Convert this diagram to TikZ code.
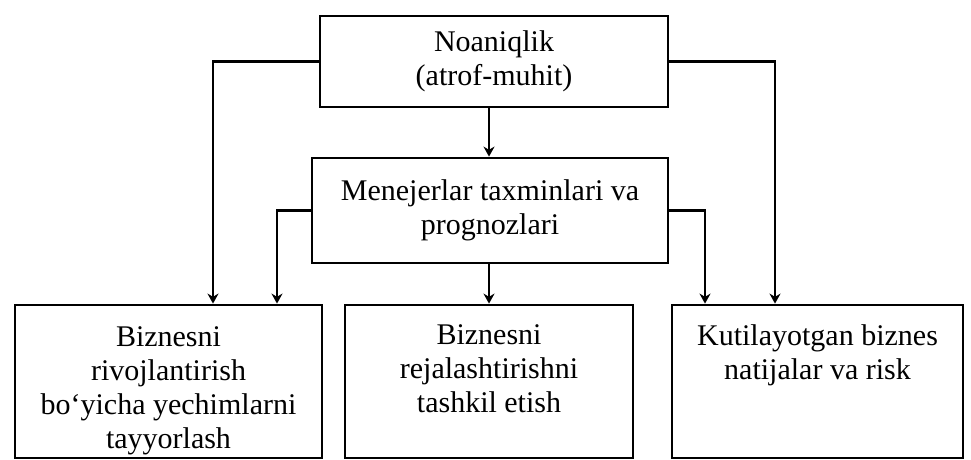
\documentclass[tikz,border=0pt]{standalone}
\usepackage{fontspec}
\setmainfont{Liberation Serif}
\usetikzlibrary{arrows.meta, calc}

\tikzset{
  blok/.style={draw, line width=2.8pt, inner sep=0pt, align=center, font=\fontsize{30}{34}\selectfont},
  matn/.style={align=center, anchor=north, inner sep=0pt, font=\fontsize{30}{34}\selectfont},
  strelka/.style={line width=2.8pt, -{Stealth[length=10pt, width=11pt]}}
}

\begin{document}
\begin{tikzpicture}[x=1pt, y=-1pt]

    % --- 1. FRAME ---
    \useasboundingbox (0,0) rectangle (971,460);

    % --- 2. UPPER BOXES ---
    \node[blok, minimum width=348pt, minimum height=91pt] (noaniq) at (494,61.5) {Noaniqlik\\(atrof-muhit)};
    \node[blok, minimum width=356pt, minimum height=105pt] (menej) at (490,210.5) {Menejerlar taxminlari va\\prognozlari};

    % --- 3. LOWER BOXES (text at the top) ---
    \node[blok, minimum width=307pt, minimum height=153pt] (chap) at (168.5,381.5) {};
    \node[blok, minimum width=288pt, minimum height=153pt] (orta) at (489,381.5) {};
    \node[blok, minimum width=291pt, minimum height=153pt] (ong) at (817.5,381.5) {};

    \node[matn] (chapm) at ([yshift=-23pt]chap.north) {Biznesni\\rivojlantirish\\bo‘yicha yechimlarni\\tayyorlash};
    \node[matn] (ortam) at ([yshift=-21pt]orta.north) {Biznesni\\rejalashtirishni\\tashkil etish};
    \node[matn] (ongm) at ([yshift=-21pt]ong.north) {Kutilayotgan biznes\\natijalar va risk};

    % --- 4. ARROWS ---
    \draw[strelka] (noaniq.south -| orta.north) -- (menej.north -| orta.north);
    \draw[strelka] (menej.south -| orta.north) -- (orta.north);

    \draw[strelka] (noaniq.west) -| ([xshift=44.5pt]chap.north);
    \draw[strelka] (menej.west) -| ([xshift=108.5pt]chap.north);

    \draw[strelka] (noaniq.east) -| ([xshift=-42.5pt]ong.north);
    \draw[strelka] (menej.east) -| ([xshift=-112.5pt]ong.north);

\end{tikzpicture}
\end{document}
